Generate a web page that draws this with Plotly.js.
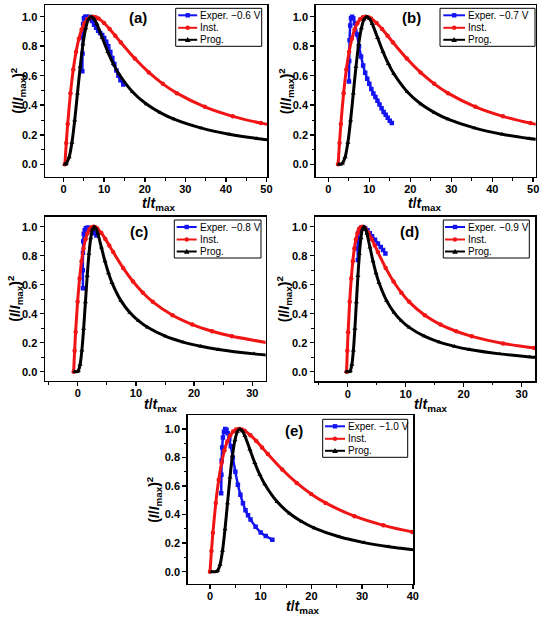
<!DOCTYPE html>
<html>
<head>
<meta charset="utf-8">
<script src="https://cdn.plot.ly/plotly-3.0.1.min.js"></script>
<style>html,body{margin:0;padding:0;background:#fff}#chart{width:550px;height:621px}</style>
</head>
<body>
<div id="chart"></div>
<script>
// ---- Data ----
// Normalised theoretical transients (I/Imax)^2, shared by all panels
const instY = [0, 0.145, 0.273, 0.482, 0.642, 0.762, 0.850, 0.913, 0.955, 0.982, 0.996, 1.000, 0.996, 0.987, 0.957, 0.916, 0.871, 0.825, 0.716, 0.622, 0.545, 0.482, 0.389, 0.325, 0.279, 0.244, 0.195, 0.163, 0.140];
const progY = [0, 0.001, 0.007, 0.049, 0.147, 0.298, 0.480, 0.661, 0.814, 0.922, 0.982, 1.000, 0.986, 0.952, 0.857, 0.762, 0.680, 0.613, 0.490, 0.408, 0.350, 0.306, 0.245, 0.204, 0.175, 0.153, 0.123, 0.102, 0.088];

// (a) -0.6 V
const aInstX = [0.3, 0.645, 0.99, 1.68, 2.37, 3.06, 3.75, 4.44, 5.13, 5.82, 6.51, 7.2, 7.89, 8.58, 9.96, 11.34, 12.72, 14.1, 17.55, 21.0, 24.45, 27.9, 34.8, 41.7, 48.6, 55.5];
const aProgX = [0.3, 0.5, 0.68, 1.36, 2.04, 2.72, 3.4, 4.08, 4.76, 5.44, 6.12, 6.8, 7.48, 8.16, 9.52, 10.88, 12.24, 13.6, 17.0, 20.4, 23.8, 27.2, 34.0, 40.8, 47.6, 54.4];
const aExpX = [4.6, 4.65, 4.7, 4.8, 5.0, 5.3, 5.7, 6.1, 6.5, 7.0, 7.5, 8.0, 8.5, 9.0, 9.5, 10.0, 10.5, 11.0, 11.5, 12.0, 12.5, 13.0, 13.5, 14.0, 14.7];
const aExpY = [0.63, 0.75, 0.86, 0.95, 0.99, 1.0, 1.0, 1.0, 0.99, 0.97, 0.945, 0.925, 0.905, 0.89, 0.875, 0.855, 0.83, 0.8, 0.76, 0.72, 0.68, 0.635, 0.6, 0.57, 0.54];

// (b) -0.7 V
const bInstX = [2.4, 2.735, 3.07, 3.74, 4.41, 5.08, 5.75, 6.42, 7.09, 7.76, 8.43, 9.1, 9.77, 10.44, 11.78, 13.12, 14.46, 15.8, 19.15, 22.5, 25.85, 29.2, 35.9, 42.6, 49.3, 56.0];
const bProgX = [2.6, 3.13, 3.46, 4.12, 4.78, 5.44, 6.1, 6.76, 7.42, 8.08, 8.74, 9.4, 10.06, 10.72, 12.04, 13.36, 14.68, 16.0, 19.3, 22.6, 25.9, 29.2, 35.8, 42.4, 49.0, 55.6];
const bExpX = [5.05, 5.1, 5.2, 5.35, 5.55, 5.8, 6.1, 6.5, 7.0, 7.5, 8.0, 8.5, 9.0, 9.5, 10.0, 10.5, 11.0, 11.5, 12.0, 12.5, 13.0, 13.5, 14.0, 14.5, 15.0, 15.5];
const bExpY = [0.56, 0.7, 0.84, 0.94, 0.99, 1.0, 0.99, 0.955, 0.88, 0.8, 0.73, 0.67, 0.62, 0.58, 0.545, 0.51, 0.48, 0.455, 0.43, 0.405, 0.38, 0.355, 0.335, 0.315, 0.295, 0.28];

// (c) -0.8 V
const cInstX = [-0.7, -0.53, -0.36, -0.02, 0.32, 0.66, 1.0, 1.34, 1.68, 2.02, 2.36, 2.7, 3.04, 3.38, 4.06, 4.74, 5.42, 6.1, 7.8, 9.5, 11.2, 12.9, 16.3, 19.7, 23.1, 26.5, 33.3];
const cProgX = [-0.55, -0.05, 0.105, 0.41, 0.715, 1.02, 1.325, 1.63, 1.935, 2.24, 2.545, 2.85, 3.155, 3.46, 4.07, 4.68, 5.29, 5.9, 7.425, 8.95, 10.475, 12.0, 15.05, 18.1, 21.15, 24.2, 30.3, 36.4];
const cExpX = [0.9, 0.88, 0.9, 0.95, 1.05, 1.2, 1.4, 1.7, 2.0, 2.3, 2.6, 2.9, 3.2];
const cExpY = [0.575, 0.7, 0.82, 0.9, 0.95, 0.975, 0.99, 0.995, 0.99, 0.98, 0.97, 0.955, 0.94];

// (d) -0.9 V
const dInstX = [-0.2, -0.065, 0.07, 0.34, 0.61, 0.88, 1.15, 1.42, 1.69, 1.96, 2.23, 2.5, 2.77, 3.04, 3.58, 4.12, 4.66, 5.2, 6.55, 7.9, 9.25, 10.6, 13.3, 16.0, 18.7, 21.4, 26.8, 32.2, 37.6];
const dProgX = [-0.2, 0.33, 0.46, 0.72, 0.98, 1.24, 1.5, 1.76, 2.02, 2.28, 2.54, 2.8, 3.06, 3.32, 3.84, 4.36, 4.88, 5.4, 6.7, 8.0, 9.3, 10.6, 13.2, 15.8, 18.4, 21.0, 26.2, 31.4, 36.6];
const dExpX = [1.75, 1.72, 1.78, 1.9, 2.1, 2.4, 2.7, 3.0, 3.4, 3.8, 4.2, 4.7, 5.2, 5.7, 6.1, 6.5];
const dExpY = [0.77, 0.85, 0.92, 0.96, 0.985, 0.995, 0.995, 0.99, 0.975, 0.955, 0.935, 0.91, 0.885, 0.86, 0.84, 0.815];

// (e) -1.0 V
const eInstX = [0, 0.285, 0.57, 1.14, 1.71, 2.28, 2.85, 3.42, 3.99, 4.56, 5.13, 5.7, 6.27, 6.84, 7.98, 9.12, 10.26, 11.4, 14.25, 17.1, 19.95, 22.8, 28.5, 34.2, 39.9, 45.6];
const eProgX = [0.3, 1.245, 1.49, 1.98, 2.47, 2.96, 3.45, 3.94, 4.43, 4.92, 5.41, 5.9, 6.39, 6.88, 7.86, 8.84, 9.82, 10.8, 13.25, 15.7, 18.15, 20.6, 25.5, 30.4, 35.3, 40.2];
const eExpX = [2.2, 2.25, 2.3, 2.4, 2.55, 2.75, 3.0, 3.25, 3.5, 3.8, 4.1, 4.5, 5.0, 5.5, 6.0, 6.5, 7.0, 7.5, 8.0, 9.0, 10.0, 11.0, 12.3];
const eExpY = [0.55, 0.68, 0.78, 0.87, 0.94, 0.98, 1.0, 0.995, 0.97, 0.93, 0.88, 0.8, 0.7, 0.61, 0.54, 0.48, 0.43, 0.395, 0.365, 0.315, 0.275, 0.25, 0.224];

const expNames = ['Exper. \u22120.6 V', 'Exper. \u22120.7 V', 'Exper. \u22120.8 V', 'Exper. \u22120.9 V', 'Exper. \u22121.0 V'];
const seriesNames = ['Inst.', 'Prog.'];
const panelLabels = ['(a)', '(b)', '(c)', '(d)', '(e)'];
const xTitle = '<b><i>t</i>/<i>t</i><sub>max</sub></b>';
const yTitle = '<b>(<i>I</i>/<i>I</i><sub>max</sub>)<sup>2</sup></b>';

// ---- Layout geometry (pixels in a 550x621 page) ----
const W = 550, H = 621;
const FONT = 'Liberation Sans, Arial, sans-serif';
const BLUE = '#1414f0', RED = '#f01414', BLACK = '#000000';
const px = v => v / W, py = v => 1 - v / H;

const panels = [
  {exp:[aExpX,aExpY], inst:aInstX, prog:aProgX, xd:[45,267.3], yd:[5,176.7], xr:[-4.6,50.2], yr:[-0.084,1.079],
   leg:{L:175.7,T:8.3,W:86,l0:2.5,l1:21.5}, lab:[138,17], xt:[158,203.5], yt:[18,90.8]},
  {exp:[bExpX,bExpY], inst:bInstX, prog:bProgX, xd:[315.7,535.7], yd:[5,176.7], xr:[-3.07,50.6], yr:[-0.084,1.079],
   leg:{L:440,T:8.3,W:95,l0:3.3,l1:25}, lab:[411,17], xt:[424,203.5], yt:[285.5,90.8]},
  {exp:[cExpX,cExpY], inst:cInstX, prog:cProgX, xd:[45,265.7], yd:[216.7,380.7], xr:[-5.62,32.3], yr:[-0.062,1.069],
   leg:{L:174.3,T:220,W:86.7,l0:2.4,l1:22.4}, lab:[139,231.7], xt:[160,405], yt:[15,298.7]},
  {exp:[dExpX,dExpY], inst:dInstX, prog:dProgX, xd:[315,535], yd:[216.7,381], xr:[-5.64,32.3], yr:[-0.064,1.069],
   leg:{L:443.3,T:220,W:86,l0:1.7,l1:21.7}, lab:[409,231.7], xt:[430,405], yt:[283.5,298.7]},
  {exp:[eExpX,eExpY], inst:eInstX, prog:eProgX, xd:[187.7,413.3], yd:[415.3,583.7], xr:[-4.4,40.1], yr:[-0.084,1.096],
   leg:{L:322.7,T:419.3,W:85,l0:2.3,l1:22.3}, lab:[294,430.3], xt:[302,606.5], yt:[153.3,499.5]}
];

const traces = [];
const shapes = [];
const annotations = [];
const layout = {
  width: W, height: H,
  margin: {l:0, r:0, t:0, b:0},
  paper_bgcolor: 'white', plot_bgcolor: 'white',
  font: {family: FONT, color: 'black'},
  showlegend: false,
  shapes: shapes, annotations: annotations
};

const common = {
  showline: true, linewidth: 1.5, linecolor: 'black', mirror: true,
  ticks: 'outside', ticklen: 4, tickwidth: 1.5, tickcolor: 'black',
  showgrid: false, zeroline: false,
  tickfont: {family: FONT, size: 11, weight: 'bold', color: 'black'}
};

const seriesStyle = [
  {color: BLUE, symbol: 'square', lw: 2.5},
  {color: RED, symbol: 'circle', lw: 3},
  {color: BLACK, symbol: 'triangle-up', lw: 3}
];

panels.forEach((p, i) => {
  const n = i === 0 ? '' : String(i + 1);
  const xa = 'x' + n, ya = 'y' + n;
  const series = [[p.exp[0], p.exp[1]], [p.inst, instY], [p.prog, progY]];
  const names = [expNames[i], seriesNames[0], seriesNames[1]];
  series.forEach((s, k) => {
    const st = seriesStyle[k];
    traces.push({
      x: s[0], y: s[1], xaxis: xa, yaxis: ya, name: names[k],
      mode: 'lines+markers',
      line: {color: st.color, width: st.lw, shape: 'spline', smoothing: 0.6},
      marker: {symbol: st.symbol, size: 4.5, color: st.color}
    });
  });

  layout['xaxis' + n] = Object.assign({}, common, {
    domain: [px(p.xd[0]), px(p.xd[1])], range: p.xr, anchor: ya, tick0: 0, dtick: 10,
    ticklabelstandoff: -2,
    minor: {ticks: 'outside', ticklen: 2.5, tickwidth: 1, tickcolor: 'black', dtick: 5, tick0: 0, showgrid: false}
  });
  layout['yaxis' + n] = Object.assign({}, common, {
    domain: [py(p.yd[1]), py(p.yd[0])], range: p.yr, anchor: xa, tick0: 0, dtick: 0.2, tickformat: '.1f',
    minor: {ticks: 'outside', ticklen: 2.5, tickwidth: 1, tickcolor: 'black', dtick: 0.1, tick0: 0, showgrid: false}
  });

  // axis titles
  annotations.push({xref:'paper', yref:'paper', x: px(p.xt[0]), y: py(p.xt[1]), xanchor:'center', yanchor:'middle',
    showarrow:false, text: xTitle, font:{family: FONT, size: 14, color:'black'}});
  annotations.push({xref:'paper', yref:'paper', x: px(p.yt[0]), y: py(p.yt[1]), xanchor:'center', yanchor:'middle',
    showarrow:false, textangle: -90, text: yTitle, font:{family: FONT, size: 14, color:'black'}});
  // panel label
  annotations.push({xref:'paper', yref:'paper', x: px(p.lab[0]), y: py(p.lab[1]), xanchor:'center', yanchor:'middle',
    showarrow:false, text: '<b>' + panelLabels[i] + '</b>', font:{family: FONT, size: 15, color:'black'}});

  // legend box
  const g = p.leg, hBox = 38, rows = [7, 19.5, 31.5];
  shapes.push({type:'rect', xref:'paper', yref:'paper', layer:'above',
    x0: px(g.L), x1: px(g.L + g.W), y0: py(g.T + hBox), y1: py(g.T),
    line:{color:'black', width:1}, fillcolor:'white'});
  rows.forEach((r, k) => {
    const st = seriesStyle[k];
    const yy = g.T + r, xm = g.L + (g.l0 + g.l1) / 2, m = 2.2;
    shapes.push({type:'line', xref:'paper', yref:'paper', layer:'above',
      x0: px(g.L + g.l0), x1: px(g.L + g.l1), y0: py(yy), y1: py(yy),
      line:{color: st.color, width: 2}});
    if (k === 0) {
      shapes.push({type:'rect', xref:'paper', yref:'paper', layer:'above',
        x0: px(xm - m), x1: px(xm + m), y0: py(yy + m), y1: py(yy - m),
        line:{width:0}, fillcolor: st.color});
    } else if (k === 1) {
      shapes.push({type:'circle', xref:'paper', yref:'paper', layer:'above',
        x0: px(xm - m), x1: px(xm + m), y0: py(yy + m), y1: py(yy - m),
        line:{width:0}, fillcolor: st.color});
    } else {
      shapes.push({type:'path', xref:'paper', yref:'paper', layer:'above',
        path: 'M' + px(xm - 2.8) + ',' + py(yy + 2.2) + ' L' + px(xm + 2.8) + ',' + py(yy + 2.2) +
              ' L' + px(xm) + ',' + py(yy - 2.8) + ' Z',
        line:{width:0}, fillcolor: st.color});
    }
    annotations.push({xref:'paper', yref:'paper', x: px(g.L + g.l1 + 0.8), y: py(yy), xanchor:'left', yanchor:'middle',
      showarrow:false, text: names[k], font:{family: FONT, size: 10, color:'black'}});
  });
});

Plotly.newPlot('chart', traces, layout, {staticPlot: true, displayModeBar: false});
</script>
</body>
</html>
